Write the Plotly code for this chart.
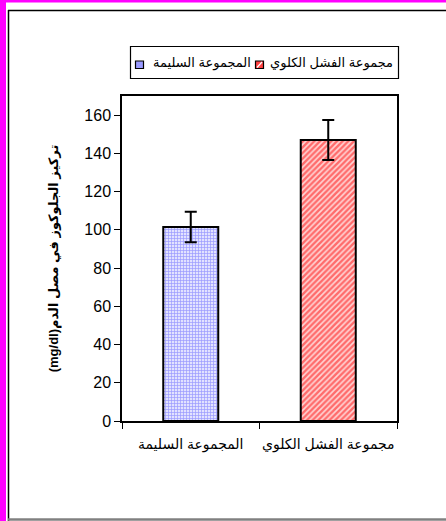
import plotly.graph_objects as go

# Serum glucose by group
groups = ["المجموعة السليمة", "مجموعة الفشل الكلوي"]
glucose_mean = [101.5, 147.0]
glucose_err = [8.0, 10.5]
y_ticks = [0, 20, 40, 60, 80, 100, 120, 140, 160]
y_title = "تركيز الجلوكوز في مصل الدم(mg/dl)"

W, H = 446, 521
ML, MR, MT, MB = 122, 49, 96, 100
PW, PH = W - ML - MR, H - MT - MB


def px_x(p):
    return (p - ML) / PW


def px_y(p):
    return (H - MB - p) / PH


FONT = "Arial, Liberation Sans, DejaVu Sans, sans-serif"

fills = [
    dict(shape="+", fgcolor="#5050ff", bgcolor="#e2e2ff", size=3, solidity=0.4),
    dict(shape="/", fgcolor="#ff0000", bgcolor="#ffd6d6", size=4, solidity=0.6),
]
swatch_colors = ["#9a9aff", "#ff4040"]

fig = go.Figure()
for i in range(len(groups)):
    fig.add_trace(go.Bar(
        x=[groups[i]],
        y=[glucose_mean[i]],
        name=groups[i],
        width=0.4,
        marker=dict(color="#ffffff", pattern=fills[i],
                    line=dict(color="black", width=2)),
        error_y=dict(type="data", array=[glucose_err[i]], visible=True,
                     color="black", thickness=2, width=6),
    ))


def prect(x0, y0, x1, y1, **kw):
    return dict(type="rect", xref="paper", yref="paper",
                x0=px_x(x0), x1=px_x(x1), y0=px_y(y0), y1=px_y(y1), **kw)


def pline(x0, y0, x1, y1, color, width):
    return dict(type="line", xref="paper", yref="paper",
                x0=px_x(x0), x1=px_x(x1), y0=px_y(y0), y1=px_y(y1),
                line=dict(color=color, width=width))


shapes = [
    # page frame decorations
    prect(0, 0, 6, H, fillcolor="#ff00ff", line_width=0, layer="below"),
    prect(0, 0, W, 2.5, fillcolor="#ff00ff", line_width=0, layer="below"),
    pline(8.5, 10, 8.5, H, "black", 1.5),
    pline(8, 10.5, W, 10.5, "black", 1.5),
    pline(8, 519.5, W, 519.5, "#808080", 2.5),
    # legend box
    prect(130.5, 46.5, 398.5, 78.5, line=dict(color="black", width=1.2),
          fillcolor="white"),
]

annotations = []
# legend entries: swatch then label, left to right
legend_entries = [(135.5, 151), (255.5, 268)]
for i, (sx, tx) in enumerate(legend_entries):
    shapes.append(prect(sx, 61, sx + 8, 68.5, fillcolor=swatch_colors[i],
                        line=dict(color="black", width=1.2)))
    if i == 1:
        shapes.append(pline(sx + 1.5, 67.5, sx + 6.5, 62, "white", 1.2))
    annotations.append(dict(
        xref="paper", yref="paper", x=px_x(tx), y=px_y(63),
        xanchor="left", yanchor="middle", showarrow=False,
        text=groups[i],
        font=dict(size=13, family=FONT, color="black")))

fig.update_layout(
    width=W, height=H,
    margin=dict(l=ML, r=MR, t=MT, b=MB, autoexpand=False),
    paper_bgcolor="white", plot_bgcolor="white",
    font=dict(family=FONT, color="black"),
    barmode="overlay",
    showlegend=False,
    shapes=shapes,
    annotations=annotations,
    xaxis=dict(showline=True, linecolor="black", linewidth=1.5, mirror=True,
               ticks="outside", ticklen=6, tickcolor="black", tickwidth=1,
               tickson="boundaries", showgrid=False, tickangle=0,
               ticklabelstandoff=9,
               tickfont=dict(size=14, family=FONT, color="black")),
    yaxis=dict(range=[0, 170], tickvals=y_ticks, showline=True,
               linecolor="black", linewidth=1.5, mirror=True,
               ticks="outside", ticklen=6, tickcolor="black", tickwidth=1,
               showgrid=False, zeroline=False,
               tickfont=dict(size=16, family=FONT, color="black"),
               title=dict(text="<b>\u202b" + y_title + "\u202c</b>", standoff=23,
                          font=dict(size=13, family=FONT, color="black"))),
)

fig.write_html("out.html")
